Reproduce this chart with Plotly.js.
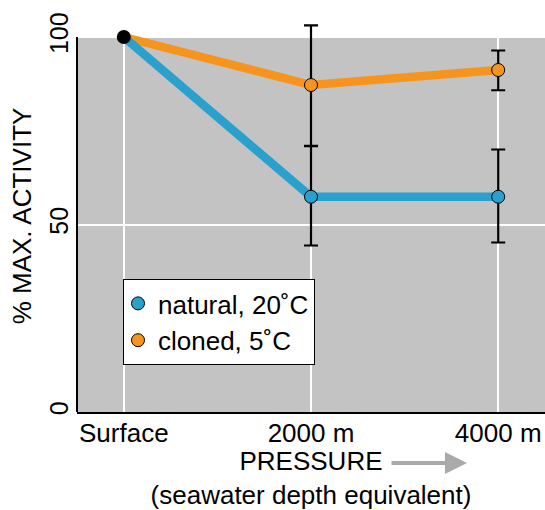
<!DOCTYPE html>
<html><head><meta charset="utf-8">
<script src="https://cdn.plot.ly/plotly-3.0.1.min.js"></script>
<style>html,body{margin:0;padding:0;background:#fff}</style>
</head><body>
<div id="chart" style="width:545px;height:510px"></div>
<script>
const categories = ['Surface', '2000 m', '4000 m'];
const naturalName = 'natural, 20˚C';
const clonedName = 'cloned, 5˚C';
const naturalValues = [100, 57.4, 57.4];
const naturalErrPlus = [0, 13.5, 12.6];
const naturalErrMinus = [0, 13.0, 12.2];
const clonedValues = [100, 87.2, 91.2];
const clonedErrPlus = [0, 15.9, 5.2];
const clonedErrMinus = [0, 16.2, 5.4];
const yTicks = [0, 50, 100];
const yMax = 100;

const blue = '#2AA1CD', orange = '#F7941E', gray = '#C2C3C2';
const xIdx = categories.map((c, i) => i);

// plot area: bottom at 412px, 100% at 37px; extra headroom above for error bars
const topPx = 20, bottomPx = 412, hundredPx = 37;
const yTop = yMax * (bottomPx - topPx) / (bottomPx - hundredPx);

function lineTrace(vals, color) {
  return {x: xIdx, y: vals, mode: 'lines', line: {color: color, width: 8.5}, showlegend: false, hoverinfo: 'skip', cliponaxis: false};
}
function markerTrace(vals, plus, minus, color, name) {
  return {
    x: xIdx.slice(1), y: vals.slice(1), mode: 'markers', name: name, cliponaxis: false,
    marker: {color: color, size: 13, line: {color: '#000', width: 1}},
    error_y: {type: 'data', symmetric: false, array: plus.slice(1), arrayminus: minus.slice(1), color: '#000', thickness: 2.2, width: 7}
  };
}
const data = [
  lineTrace(clonedValues, orange),
  lineTrace(naturalValues, blue),
  markerTrace(naturalValues, naturalErrPlus, naturalErrMinus, blue, naturalName),
  markerTrace(clonedValues, clonedErrPlus, clonedErrMinus, orange, clonedName),
  {x: [xIdx[0]], y: [naturalValues[0]], mode: 'markers', marker: {color: '#000', size: 14}, showlegend: false, cliponaxis: false}
];

const layout = {
  width: 545, height: 510,
  margin: {l: 77, r: 0, t: topPx, b: 510 - bottomPx},
  paper_bgcolor: '#fff', plot_bgcolor: '#fff',
  font: {family: 'Liberation Sans, Arial, sans-serif', color: '#000', size: 26},
  showlegend: true,
  legend: {x: 0.0983, y: 0.3547 * (bottomPx - hundredPx) / (bottomPx - topPx), xanchor: 'left', yanchor: 'top', bgcolor: '#fff', bordercolor: '#000', borderwidth: 1,
           font: {size: 26}, itemwidth: 30, tracegroupgap: 0, indentation: -6},
  xaxis: {
    range: [-0.25, 2.25], tickvals: xIdx, ticktext: categories,
    showgrid: true, gridcolor: '#fff', gridwidth: 2, zeroline: false,
    showline: true, linecolor: '#000', linewidth: 2, ticks: '',
    tickfont: {size: 26}, ticklabelstandoff: -3,
    title: {text: 'PRESSURE<br>(seawater depth equivalent)', font: {size: 26}, standoff: 9}
  },
  yaxis: {
    range: [0, yTop], tickvals: yTicks, tickangle: -90,
    showgrid: true, gridcolor: '#fff', gridwidth: 2, zeroline: false,
    showline: false, ticks: '',
    tickfont: {size: 25}, ticklabelstandoff: 3,
    title: {text: '% MAX. ACTIVITY', font: {size: 26}, standoff: 5}
  },
  shapes: [
    {type: 'rect', layer: 'below', xref: 'paper', yref: 'y', x0: 0, x1: 1, y0: 0, y1: yMax, fillcolor: gray, line: {width: 0}},
    {type: 'line', layer: 'above', xref: 'paper', yref: 'y', x0: 0, x1: 0, y0: 0, y1: yMax, line: {color: '#000', width: 2}}
  ],
  annotations: [{
    xref: 'paper', yref: 'paper', x: 0.8333, y: -(463 - bottomPx) / (bottomPx - topPx), ax: -77, ay: 0,
    text: '', showarrow: true, arrowcolor: '#A9ABAA', arrowwidth: 4, arrowhead: 2, arrowsize: 1.1
  }]
};
Plotly.newPlot('chart', data, layout, {displayModeBar: false, staticPlot: true});
</script>
</body></html>
